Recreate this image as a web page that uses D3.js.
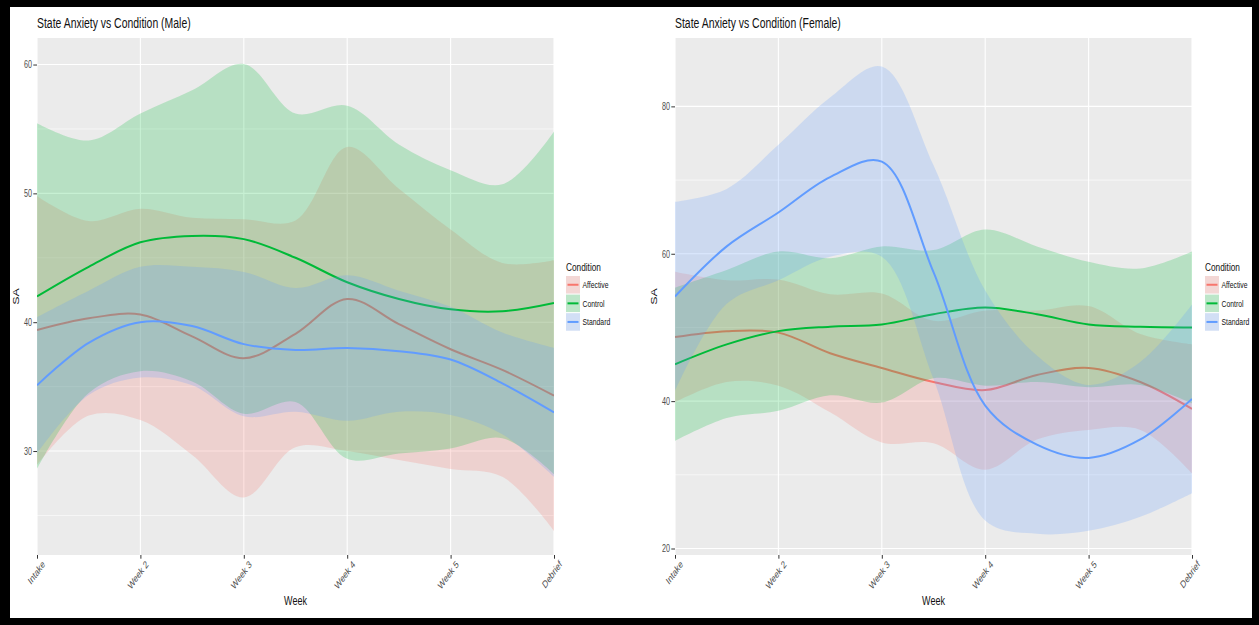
<!DOCTYPE html>
<html>
<head>
<meta charset="utf-8">
<script src="https://cdn.jsdelivr.net/npm/d3@7"></script>
<style>
  html, body { margin: 0; padding: 0; background: #fff; }
  svg { display: block; font-family: "Liberation Sans", Arial, sans-serif; }
</style>
</head>
<body>
<svg id="chart" width="1259" height="625"></svg>
<script>
// ---- data (loess fit + confidence band per condition) ----
const weeks = ['Intake', 'Week 2', 'Week 3', 'Week 4', 'Week 5', 'Debrief'];
const weekNums = [1, 2, 3, 4, 5, 6];
const xs = [1, 1.5, 2, 2.5, 3, 3.5, 4, 4.5, 5, 5.5, 6];
const conditions = ['Affective', 'Control', 'Standard'];
const colors = ['#F8766D', '#00BA38', '#619CFF'];

const maleYTicks = [30, 40, 50, 60];
const maleYMinor = [25, 35, 45, 55];
const maleYDomain = [21.93, 62.06];

const maleAffectiveFit = [39.4, 40.3, 40.6, 38.9, 37.2, 39.1, 41.8, 39.85, 37.9, 36.3, 34.3];
const maleAffectiveHi = [49.8, 47.85, 48.8, 48.1, 48.0, 47.9, 53.6, 50.35, 47.2, 44.6, 44.8];
const maleAffectiveLo = [28.9, 32.75, 32.4, 29.7, 26.4, 30.3, 30.0, 29.3, 28.6, 28.0, 23.8];

const maleControlFit = [42.0, 44.3, 46.2, 46.7, 46.45, 45.0, 43.1, 41.8, 41.0, 40.85, 41.5];
const maleControlHi = [55.45, 54.1, 56.2, 58.0, 60.05, 56.2, 56.8, 53.8, 51.8, 50.7, 54.8];
const maleControlLo = [28.6, 34.5, 36.2, 35.4, 32.9, 33.8, 29.4, 29.8, 30.2, 31.0, 28.2];

const maleStandardFit = [35.1, 38.4, 40.0, 39.7, 38.3, 37.85, 38.0, 37.75, 37.1, 35.25, 33.0];
const maleStandardHi = [40.4, 42.45, 44.3, 44.3, 43.9, 42.65, 43.65, 42.45, 41.2, 39.2, 38.0];
const maleStandardLo = [29.8, 34.35, 35.7, 35.1, 32.7, 33.05, 32.35, 33.05, 32.8, 31.3, 28.0];

const femaleYTicks = [20, 40, 60, 80];
const femaleYMinor = [30, 50, 70];
const femaleYDomain = [19.12, 89.28];

const femaleAffectiveFit = [48.7, 49.5, 49.3, 46.5, 44.5, 42.6, 41.5, 43.55, 44.5, 42.6, 38.95];
const femaleAffectiveHi = [57.55, 56.4, 56.5, 54.5, 54.6, 50.9, 52.3, 52.3, 52.9, 49.1, 47.7];
const femaleAffectiveLo = [39.85, 42.6, 42.1, 38.5, 34.4, 34.3, 30.7, 34.8, 36.1, 36.1, 30.2];

const femaleControlFit = [45.0, 47.7, 49.5, 50.1, 50.4, 51.8, 52.7, 51.8, 50.4, 50.1, 50.0];
const femaleControlHi = [55.4, 57.8, 60.3, 59.4, 61.0, 60.5, 63.3, 61.0, 58.9, 58.0, 60.3];
const femaleControlLo = [34.6, 37.7, 38.7, 40.8, 39.8, 43.1, 42.1, 42.6, 41.9, 42.2, 39.7];

const femaleStandardFit = [54.2, 61.0, 65.6, 70.4, 72.5, 57.5, 39.4, 34.1, 32.3, 34.8, 40.3];
const femaleStandardHi = [67.05, 68.8, 74.8, 81.2, 85.4, 72.0, 55.0, 46.2, 42.2, 45.3, 53.1];
const femaleStandardLo = [41.35, 53.2, 56.4, 59.6, 59.6, 43.0, 23.8, 22.0, 22.4, 24.3, 27.5];

// ---- page ----
const SX = 0.72; // source picture is squeezed horizontally, text follows it
const plotTop = 38, plotBottom = 555;
const bandOpacity = 0.22;

const svg = d3.select('#chart');
svg.append('rect').attr('width', 1259).attr('height', 625).attr('fill', '#000');
svg.append('rect').attr('x', 10).attr('y', 7).attr('width', 1242).attr('height', 611).attr('fill', '#fff');

function label(g, x, y, str, o) {
  let tr = `translate(${x},${y}) scale(${SX},1)`;
  if (o.rotate) tr += ` rotate(${o.rotate})`;
  return g.append('text')
    .attr('transform', tr)
    .attr('text-anchor', o.anchor || 'start')
    .attr('font-size', o.size)
    .attr('fill', o.color || '#111')
    .text(str);
}

function drawPanel(p, idx) {
  const x = d3.scaleLinear().domain([1, 6]).range([p.left, p.right]);
  const y = d3.scaleLinear().domain(p.yDomain).range([plotBottom, plotTop]);
  const g = svg.append('g');

  g.append('rect')
    .attr('x', p.left).attr('y', plotTop)
    .attr('width', p.right - p.left).attr('height', plotBottom - plotTop)
    .attr('fill', '#EBEBEB');

  g.selectAll('.minor').data(p.minor).enter().append('line')
    .attr('x1', p.left).attr('x2', p.right)
    .attr('y1', (d) => y(d)).attr('y2', (d) => y(d))
    .attr('stroke', '#fff').attr('stroke-width', 0.6);
  g.selectAll('.major').data(p.ticks).enter().append('line')
    .attr('x1', p.left).attr('x2', p.right)
    .attr('y1', (d) => y(d)).attr('y2', (d) => y(d))
    .attr('stroke', '#fff').attr('stroke-width', 1.1);
  g.selectAll('.vmajor').data(weekNums).enter().append('line')
    .attr('x1', (d) => x(d)).attr('x2', (d) => x(d))
    .attr('y1', plotTop).attr('y2', plotBottom)
    .attr('stroke', '#fff').attr('stroke-width', 1.1);

  const clipId = 'clip' + idx;
  svg.append('clipPath').attr('id', clipId).append('rect')
    .attr('x', p.left).attr('y', plotTop)
    .attr('width', p.right - p.left).attr('height', plotBottom - plotTop);
  const plot = g.append('g').attr('clip-path', `url(#${clipId})`);

  const area = d3.area().x((d) => x(d.w)).y0((d) => y(d.lo)).y1((d) => y(d.hi))
    .curve(d3.curveCatmullRom);
  const line = d3.line().x((d) => x(d.w)).y((d) => y(d.fit))
    .curve(d3.curveCatmullRom);

  // ribbon then line, group by group (later groups cover earlier lines)
  p.series.forEach((s, i) => {
    const pts = xs.map((w, j) => ({ w, fit: s.fit[j], lo: s.lo[j], hi: s.hi[j] }));
    plot.append('path').datum(pts).attr('d', area)
      .attr('fill', colors[i]).attr('fill-opacity', bandOpacity);
    plot.append('path').datum(pts).attr('d', line)
      .attr('fill', 'none').attr('stroke', colors[i]).attr('stroke-width', 2);
  });

  // y axis
  const ya = g.append('g').attr('transform', `translate(${p.left},0)`)
    .call(d3.axisLeft(y).tickValues(p.ticks).tickSize(3.7).tickFormat(d3.format('d')));
  ya.select('.domain').remove();
  ya.selectAll('line').attr('stroke', '#333').attr('stroke-width', 1);
  ya.selectAll('text')
    .attr('x', null).attr('dy', null)
    .attr('transform', `translate(-5,3.4) scale(${SX},1)`)
    .attr('font-size', 10).attr('fill', '#4D4D4D')
    .attr('font-family', '"Liberation Sans", Arial, sans-serif');

  // x axis
  const xa = g.append('g').attr('transform', `translate(0,${plotBottom})`)
    .call(d3.axisBottom(x).tickValues(weekNums).tickSize(3.7)
      .tickFormat((d, i) => weeks[i]));
  xa.select('.domain').remove();
  xa.selectAll('line').attr('stroke', '#333').attr('stroke-width', 1);
  xa.selectAll('text')
    .attr('y', null).attr('dy', null)
    .attr('text-anchor', 'end')
    .attr('transform', `translate(8,10) scale(${SX},1) rotate(-45)`)
    .attr('font-size', 10.5).attr('fill', '#4D4D4D')
    .attr('font-family', '"Liberation Sans", Arial, sans-serif');

  // titles
  label(g, p.left, 28, p.title, { size: 14.5 });
  label(g, (p.left + p.right) / 2, 605, 'Week', { size: 12.5, anchor: 'middle' });
  label(g, p.left - 18, (plotTop + plotBottom) / 2, 'SA', { size: 12.5, anchor: 'middle', rotate: -90 });

  // legend
  const lg = g.append('g').attr('transform', `translate(${p.legendX},0)`);
  label(lg, 0, 271, 'Condition', { size: 11.5 });
  conditions.forEach((c, i) => {
    const ky = 276 + i * 18.6;
    lg.append('rect').attr('x', 0).attr('y', ky).attr('width', 14).attr('height', 17.5)
      .attr('fill', '#F2F2F2');
    lg.append('rect').attr('x', 0).attr('y', ky).attr('width', 14).attr('height', 17.5)
      .attr('fill', colors[i]).attr('fill-opacity', bandOpacity);
    lg.append('line').attr('x1', 1.5).attr('x2', 12.5)
      .attr('y1', ky + 8.75).attr('y2', ky + 8.75)
      .attr('stroke', colors[i]).attr('stroke-width', 2);
    label(lg, 16.5, ky + 12, c, { size: 9.5 });
  });
}

drawPanel({
  title: 'State Anxiety vs Condition (Male)',
  left: 37, right: 554, legendX: 566,
  yDomain: maleYDomain, ticks: maleYTicks, minor: maleYMinor,
  series: [
    { fit: maleAffectiveFit, hi: maleAffectiveHi, lo: maleAffectiveLo },
    { fit: maleControlFit, hi: maleControlHi, lo: maleControlLo },
    { fit: maleStandardFit, hi: maleStandardHi, lo: maleStandardLo },
  ],
}, 1);

drawPanel({
  title: 'State Anxiety vs Condition (Female)',
  left: 675, right: 1192, legendX: 1205,
  yDomain: femaleYDomain, ticks: femaleYTicks, minor: femaleYMinor,
  series: [
    { fit: femaleAffectiveFit, hi: femaleAffectiveHi, lo: femaleAffectiveLo },
    { fit: femaleControlFit, hi: femaleControlHi, lo: femaleControlLo },
    { fit: femaleStandardFit, hi: femaleStandardHi, lo: femaleStandardLo },
  ],
}, 2);
</script>
</body>
</html>
